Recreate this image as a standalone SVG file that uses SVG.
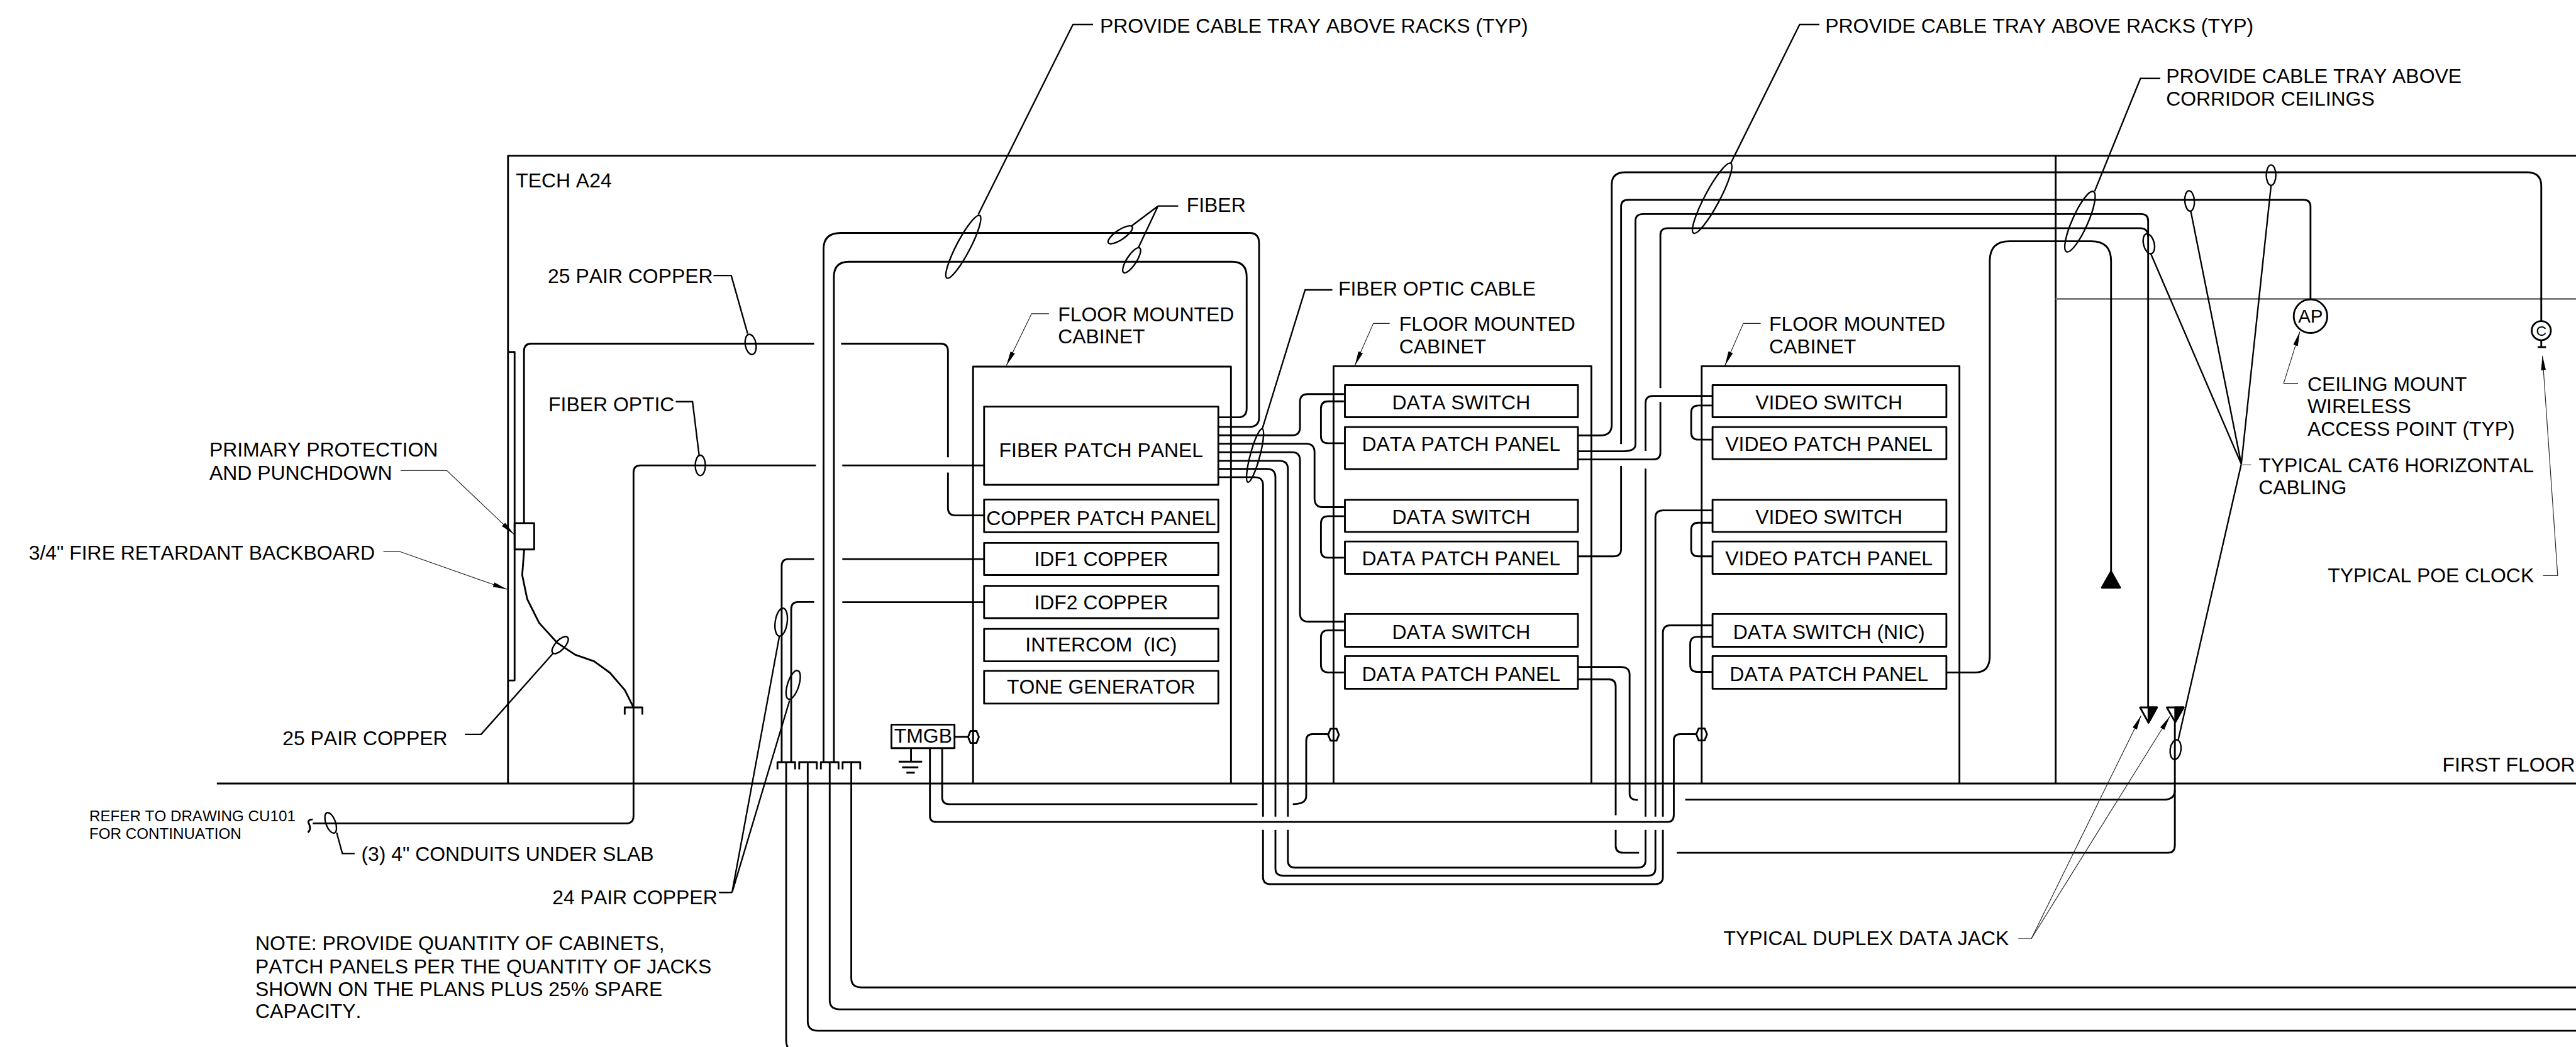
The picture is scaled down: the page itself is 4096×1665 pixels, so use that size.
<svg xmlns="http://www.w3.org/2000/svg" xmlns:xlink="http://www.w3.org/1999/xlink" width="4096" height="1665" viewBox="0 0 4096 1665">
<style>
text{font-family:"Liberation Sans",Arial,sans-serif;font-size:33.5px;fill:#000;white-space:pre;font-kerning:none}
.sm{font-size:25.4px}
.c{text-anchor:middle}
path,line,rect,ellipse,polygon,circle{fill:none;stroke:#000;stroke-linecap:butt;stroke-linejoin:round}
.w path,.w line,.w rect,.w ellipse,.w polygon,.w circle,rect.w,path.w,line.w,polygon.w,ellipse.w,circle.w,#hex,#cap{stroke-width:3}
.l path,.l ellipse,.l line{stroke-width:2.5}
.t path,.t line{stroke-width:1.2;stroke:#222}
.g{stroke:#777!important;stroke-width:1.8}
.f{fill:#000}
</style>
<defs>
<marker id="ah" markerUnits="userSpaceOnUse" markerWidth="26" markerHeight="12" refX="24" refY="6" orient="auto"><path d="M0,2 L24,6 L0,10 Z" style="fill:#000;stroke:none"/></marker>
<polygon id="hex" points="-9,0 -5,-10 5,-10 9,0 5,10 -5,10"/>
<path id="cap" d="M-14.7,12 V0 H14.7 V12"/>
</defs>
<rect width="4096" height="1665" style="fill:#fff;stroke:none"/>
<g transform="scale(0.95256)">

<g id="building" class="w">
<path d="M848,1308 V260 H4300"/>
<path d="M362,1308 H4300"/>
<path d="M3431.4,260 V1308"/>
<path class="g" d="M3431.4,499 H4300"/>
<path d="M848,587.6 H859 V1136 H848"/>
<text x="861" y="313">TECH A24</text>
</g>

<g id="connectors">
<g class="w">
<path d="M874.7,873.3 V586 Q874.7,573.7 887,573.7 H1359"/>
<path d="M1404,573.7 H1570 Q1582.4,573.7 1582.4,586 V763.5"/>
<path d="M1582.4,789 V848 Q1582.4,860.4 1595,860.4 H1642.7"/>
<path d="M875,917.3 L871.7,960 L880,1000 L900,1040 L930,1073 L960,1093 L991.7,1104 L1018,1123 L1043,1152 L1057,1180"/>
<path d="M1362,777 H1069 Q1057.5,777 1057.5,789 V1362 Q1057.5,1374.6 1045,1374.6 H522"/>
<path d="M1406,777 H1642.7"/>
<path d="M522,1368 Q512,1368 516,1376 Q520,1384 514,1390"/>
<path d="M1359,933.4 H1316 Q1304.8,933.4 1304.8,945 V1272.4"/>
<path d="M1359,1005 H1332 Q1320.7,1005 1320.7,1017 V1272.4"/>
<path d="M1406,933.4 H1642.7"/>
<path d="M1406,1005.3 H1642.7"/>
<path d="M1374.7,1272.4 V416 Q1374.7,389 1403,389 H2086 Q2101.7,389 2101.7,406 V697 Q2101.7,712.7 2085,712.7 H2032.7"/>
<path d="M1392,1272.4 V462 Q1392,437 1417,437 H2057 Q2081,437 2081,462 V682 Q2081,696.7 2066,696.7 H2032.7"/>
<path d="M2032.7,726.7 H2157 Q2170,726.7 2170,713 V671 Q2170,658 2183,658 H2243.3"/>
<path d="M2032.7,740.7 H2180 Q2194.3,740.7 2194.3,755 V832 Q2194.3,846.7 2208,846.7 H2243.3"/>
<path d="M2032.7,755 H2157 Q2170,755 2170,769 V1024 Q2170,1037.7 2184,1037.7 H2243.3"/>
<path d="M2032.7,769.3 H2136 Q2149.8,769.3 2149.8,783 V1363.5"/>
<path d="M2032.7,782.7 H2115 Q2129,782.7 2129,797 V1363.5"/>
<path d="M2032.7,796.7 H2095 Q2108.3,796.7 2108.3,810 V1363.5"/>
<path d="M2149.8,1385.5 V1437 Q2149.8,1448.5 2162,1448.5 H2734 Q2746.8,1448.5 2746.8,1437 V1385.5"/>
<path d="M2129,1385.5 V1450 Q2129,1461.8 2141.5,1461.8 H2751 Q2763.3,1461.8 2763.3,1450 V1385.5"/>
<path d="M2108.3,1385.5 V1464 Q2108.3,1476 2120,1476 H2763 Q2775.8,1476 2775.8,1464 V1385.5"/>
<path d="M2746.8,1363.5 V782.4"/>
<path d="M2746.8,752.8 V673 Q2746.8,661 2759,661 H2858.7"/>
<path d="M2763.3,1363.5 V864 Q2763.3,852 2776,852 H2858.7"/>
<path d="M2775.8,1363.5 V1057 Q2775.8,1044 2788,1044 H2858.7"/>
<path d="M2243.3,670 H2217 Q2205,670 2205,682 V728 Q2205,740 2217,740 H2243.3"/>
<path d="M2243.3,861.7 H2217 Q2205,861.7 2205,874 V919 Q2205,931 2217,931 H2243.3"/>
<path d="M2243.3,1052.3 H2217 Q2205,1052.3 2205,1064 V1110 Q2205,1122.6 2217,1122.6 H2243.3"/>
<path d="M2858.7,677 H2835 Q2823,677 2823,689 V722 Q2823,734 2835,734 H2858.7"/>
<path d="M2858.7,872.7 H2835 Q2823,872.7 2823,885 V917 Q2823,928.8 2835,928.8 H2858.7"/>
<path d="M2858.7,1063 H2833 Q2821.4,1063 2821.4,1075 V1110 Q2821.4,1121.7 2833,1121.7 H2858.7"/>
<path d="M2634,727 H2672 Q2690.4,727 2690.4,709 V308 Q2690.4,287.6 2713,287.6 H4218 Q4242,287.6 4242,310 V536.5"/>
<path d="M2634,928.8 H2693 Q2706,928.8 2706,917 V778"/>
<path d="M2706,741.5 V345 Q2706,333.6 2718,333.6 H3845 Q3856.8,333.6 3856.8,345 V499"/>
<path d="M2634,753.3 H2710 Q2730,753.3 2730,742 V369 Q2730,357.4 2743,357.4 H3574 Q3585.8,357.4 3585.8,369 V1181"/>
<path d="M2634,767 H2759 Q2771.6,767 2771.6,756 V671"/>
<path d="M2771.6,648 V392 Q2771.6,381 2784,381 H3572 Q3585.8,381 3585.8,395"/>
<path d="M3249,1122.6 H3298 Q3321.4,1122.6 3321.4,1095 V436 Q3321.4,402.7 3354,402.7 H3491 Q3523.9,402.7 3523.9,436 V954"/>
<path d="M2634,1113.5 H2705 Q2720.2,1113.5 2720.2,1126 V1325 Q2720.2,1335.5 2734,1335.5"/>
<path d="M2813,1335 H3612 Q3630.4,1335 3630.4,1319"/>
<path d="M2634,1134 H2685 Q2697,1134 2697,1146 V1361"/>
<path d="M2697,1385.5 V1412 Q2697,1423.7 2709.5,1423.7 H2736"/>
<path d="M2799,1423.7 H3619 Q3630.4,1423.7 3630.4,1411 V1205.6"/>
<path d="M1593.3,1230 H1616"/>
<path d="M1572.7,1249 V1331 Q1572.7,1342.6 1585,1342.6 H2099"/>
<path d="M2158,1342.5 Q2180.4,1342.5 2180.4,1329 V1237 Q2180.4,1225.7 2191,1225.7 H2217"/>
<path d="M1552.3,1249 V1362 Q1552.3,1372.2 1563,1372.2 H2784 Q2794,1372.2 2794,1360 V1236 Q2794,1225.7 2805,1225.7 H2831.5"/>
<path d="M1421,1272.4 V1633 Q1421,1648.4 1438,1648.4 H4300"/>
<path d="M1385,1272.4 V1670 Q1385,1685 1402,1685 H4300"/>
<path d="M1348.3,1272.4 V1705 Q1348.3,1720.8 1365,1720.8 H4300"/>
<path d="M1312.3,1272.4 V1738 Q1312.3,1748 1320,1756"/>
</g>
<g class="l">
<path d="M1824.5,41 H1791 L1633,358"/>
<path d="M3037,41 H3004 L2889,272.7"/>
<path d="M3606,131 H3573 L3496.4,319.5"/>
<path d="M1966.7,344 H1933 L1888,378 M1933,344 L1900,414"/>
<path d="M2224,484 H2178.5 L2107,716"/>
<path d="M1191,460 H1220.6 L1248,557"/>
<path d="M1128,670.5 H1156 L1167,760"/>
<path d="M776,1226 H803 L923,1091"/>
<path d="M562,1390 L571.5,1425 H592"/>
<path d="M1222,1490 H1200 M1222,1490 L1301,1062 M1222,1490 L1318,1169.5"/>
<path d="M3741.3,774.7 L3791,309.7 M3741.3,774.7 L3657,352.8 M3741.3,774.7 L3590,423 M3741.3,774.7 L3636,1235"/>
<ellipse cx="1608" cy="412" rx="11.5" ry="59" transform="rotate(27.6 1608 412)"/>
<ellipse cx="2858" cy="331" rx="12.5" ry="66" transform="rotate(28 2858 331)"/>
<ellipse cx="3472" cy="370" rx="13" ry="55" transform="rotate(24 3472 370)"/>
<ellipse cx="2095" cy="760.5" rx="8" ry="46" transform="rotate(15 2095 760.5)"/>
<ellipse cx="1870" cy="392" rx="8" ry="24" transform="rotate(56 1870 392)"/>
<ellipse cx="1889" cy="434.5" rx="8" ry="24.5" transform="rotate(33 1889 434.5)"/>
<ellipse cx="1253" cy="575" rx="9" ry="17" transform="rotate(-10 1253 575)"/>
<ellipse cx="1169" cy="777" rx="8.5" ry="17"/>
<ellipse cx="935" cy="1077" rx="8" ry="18" transform="rotate(43 935 1077)"/>
<ellipse cx="552" cy="1373.7" rx="8" ry="18" transform="rotate(-20 552 1373.7)"/>
<ellipse cx="1304" cy="1038.7" rx="10" ry="23.5" transform="rotate(8 1304 1038.7)"/>
<ellipse cx="1324" cy="1143.4" rx="9.5" ry="25" transform="rotate(18 1324 1143.4)"/>
<ellipse cx="3791" cy="292.5" rx="8" ry="17"/>
<ellipse cx="3655" cy="335.5" rx="8" ry="17" transform="rotate(-4 3655 335.5)"/>
<ellipse cx="3587" cy="407" rx="9" ry="17" transform="rotate(-14 3587 407)"/>
<ellipse cx="3631.6" cy="1251.5" rx="9" ry="16.5" transform="rotate(8 3631.6 1251.5)"/>
</g>
<g class="t">
<path marker-end="url(#ah)" d="M668.6,785.7 H746 L858,892"/>
<path marker-end="url(#ah)" d="M640,921 H667.7 L846.7,984"/>
<path marker-end="url(#ah)" d="M1751,523.7 H1722 L1680,610"/>
<path marker-end="url(#ah)" d="M2319.7,540 H2292.4 L2261.7,610"/>
<path marker-end="url(#ah)" d="M2939,540 H2910 L2879.4,610"/>
<path marker-end="url(#ah)" d="M3836,640 H3812 L3839,553.7"/>
<path marker-end="url(#ah)" d="M4245,961 H4269.4 L4244,594"/>
<path class="g" d="M3369,1566.8 H3391"/>
<path marker-end="url(#ah)" d="M3391,1566.8 L3574,1194.8"/>
<path marker-end="url(#ah)" d="M3391,1566.8 L3622,1196"/>
<path class="g" d="M3741,775.8 H3758"/>
</g>
</g>

<g id="cab1" class="w"><path d="M1624.3,1308 V612 H2054.8 V1308"/></g>
<g id="cab2" class="w"><path d="M2226,1308 V611.4 H2656.4 V1308"/></g>
<g id="cab3" class="w"><path d="M2840.5,1308 V611.4 H3270.8 V1308"/></g>

<g id="p-fiber" class="w"><rect x="1642.7" y="678.8" width="391" height="130.6"/><text class="c" x="1838" y="763.5">FIBER PATCH PANEL</text></g>
<g id="p-copper" class="w"><rect x="1642.7" y="834" width="391" height="54.5"/><text class="c" x="1838" y="876.7">COPPER PATCH PANEL</text></g>
<g id="p-idf1" class="w"><rect x="1642.7" y="906.3" width="391" height="53.7"/><text class="c" x="1838" y="945">IDF1 COPPER</text></g>
<g id="p-idf2" class="w"><rect x="1642.7" y="978" width="391" height="54"/><text class="c" x="1838" y="1017">IDF2 COPPER</text></g>
<g id="p-ic" class="w"><rect x="1642.7" y="1050" width="391" height="54"/><text class="c" x="1838" y="1088">INTERCOM  (IC)</text></g>
<g id="p-tone" class="w"><rect x="1642.7" y="1120" width="391" height="54.6"/><text class="c" x="1838" y="1158.4">TONE GENERATOR</text></g>

<g id="p-ds1" class="w"><rect x="2245" y="643" width="389" height="53.6"/><text class="c" x="2439" y="683">DATA SWITCH</text></g>
<g id="p-dpp1" class="w"><rect x="2245" y="713" width="389" height="70"/><text class="c" x="2439" y="753">DATA PATCH PANEL</text></g>
<g id="p-ds2" class="w"><rect x="2245" y="834.4" width="389" height="53.6"/><text class="c" x="2439" y="874">DATA SWITCH</text></g>
<g id="p-dpp2" class="w"><rect x="2245" y="904" width="389" height="54"/><text class="c" x="2439" y="944">DATA PATCH PANEL</text></g>
<g id="p-ds3" class="w"><rect x="2245" y="1025" width="389" height="54.7"/><text class="c" x="2439" y="1067">DATA SWITCH</text></g>
<g id="p-dpp3" class="w"><rect x="2245" y="1095.4" width="389" height="54.6"/><text class="c" x="2439" y="1137">DATA PATCH PANEL</text></g>

<g id="p-vs1" class="w"><rect x="2858.7" y="643" width="390.3" height="53.6"/><text class="c" x="3053" y="683">VIDEO SWITCH</text></g>
<g id="p-vpp1" class="w"><rect x="2858.7" y="713" width="390.3" height="53.5"/><text class="c" x="3053" y="753">VIDEO PATCH PANEL</text></g>
<g id="p-vs2" class="w"><rect x="2858.7" y="834.4" width="390.3" height="53.6"/><text class="c" x="3053" y="874">VIDEO SWITCH</text></g>
<g id="p-vpp2" class="w"><rect x="2858.7" y="904" width="390.3" height="54"/><text class="c" x="3053" y="944">VIDEO PATCH PANEL</text></g>
<g id="p-nic" class="w"><rect x="2858.7" y="1025" width="390.3" height="54.7"/><text class="c" x="3053" y="1067">DATA SWITCH (NIC)</text></g>
<g id="p-dpp4" class="w"><rect x="2858.7" y="1095.4" width="390.3" height="54.6"/><text class="c" x="3053" y="1137">DATA PATCH PANEL</text></g>

<g id="tmgb" class="w"><rect x="1488" y="1209.8" width="105.3" height="39.2"/><text class="c" x="1541" y="1240">TMGB</text>
<path d="M1520.7,1249 V1271.6 M1500,1271.6 H1539.3 M1506,1281 H1533 M1513,1290 H1527"/></g>
<g id="bond-hexes">
<use xlink:href="#hex" href="#hex" x="1625" y="1230.4"/>
<use xlink:href="#hex" href="#hex" x="2226" y="1226.6"/>
<use xlink:href="#hex" href="#hex" x="2840.5" y="1226"/>
</g>
<g id="punchdown" class="w"><rect x="859" y="873.3" width="32.7" height="44"/></g>
<g id="sleeves">
<use xlink:href="#cap" href="#cap" x="1057.5" y="1181"/>
<use xlink:href="#cap" href="#cap" x="1312.5" y="1272.4"/>
<use xlink:href="#cap" href="#cap" x="1348.8" y="1272.4"/>
<use xlink:href="#cap" href="#cap" x="1385" y="1272.4"/>
<use xlink:href="#cap" href="#cap" x="1421.2" y="1272.4"/>
</g>

<g id="ap" class="w"><circle cx="3856.8" cy="527.9" r="28"/><text class="c" x="3856.8" y="539" style="font-size:31px">AP</text></g>
<g id="clock" class="w"><circle cx="4242" cy="552" r="16"/><text class="c" x="4242" y="561" style="font-size:24px">C</text><path d="M4242,568 V579.5 M4236,579.5 H4250"/></g>
<g id="jack-up" class="w"><polygon class="f" points="3523.9,954 3508.5,981 3539,981"/></g>
<g id="jack-1" class="w"><polygon points="3572.3,1181 3600.4,1181 3586.4,1206.6"/><polygon class="f" points="3586.4,1181 3600.4,1181 3586.4,1206.6"/></g>
<g id="jack-2" class="w"><polygon points="3617,1181 3645,1181 3631,1205.6"/><polygon class="f" points="3631,1181 3645,1181 3631,1205.6"/></g>

<g id="labels">
<text x="1836" y="54.3">PROVIDE CABLE TRAY ABOVE RACKS (TYP)</text>
<text x="3046.8" y="54.3">PROVIDE CABLE TRAY ABOVE RACKS (TYP)</text>
<text x="3615.7" y="139">PROVIDE CABLE TRAY ABOVE</text>
<text x="3615.7" y="176.5">CORRIDOR CEILINGS</text>
<text x="1980.7" y="354.3">FIBER</text>
<text x="2234" y="493.6">FIBER OPTIC CABLE</text>
<text x="1766" y="536.4">FLOOR MOUNTED</text><text x="1766" y="573">CABINET</text>
<text x="2335.5" y="552">FLOOR MOUNTED</text><text x="2335.5" y="590">CABINET</text>
<text x="2953" y="552">FLOOR MOUNTED</text><text x="2953" y="590">CABINET</text>
<text x="914.5" y="472.5">25 PAIR COPPER</text>
<text x="915.5" y="687">FIBER OPTIC</text>
<text x="349.5" y="762">PRIMARY PROTECTION</text><text x="349.5" y="800.5">AND PUNCHDOWN</text>
<text x="48" y="934">3/4" FIRE RETARDANT BACKBOARD</text>
<text x="471.6" y="1243.7">25 PAIR COPPER</text>
<text class="sm" x="149" y="1371">REFER TO DRAWING CU101</text><text class="sm" x="149" y="1400">FOR CONTINUATION</text>
<text x="603" y="1437.5">(3) 4" CONDUITS UNDER SLAB</text>
<text x="922" y="1510">24 PAIR COPPER</text>
<text x="426.3" y="1586.6">NOTE: PROVIDE QUANTITY OF CABINETS,</text>
<text x="426.3" y="1625">PATCH PANELS PER THE QUANTITY OF JACKS</text>
<text x="426.3" y="1662.5">SHOWN ON THE PLANS PLUS 25% SPARE</text>
<text x="426.3" y="1700">CAPACITY.</text>
<text x="2877" y="1578">TYPICAL DUPLEX DATA JACK</text>
<text x="3851.7" y="653">CEILING MOUNT</text><text x="3851.7" y="690">WIRELESS</text><text x="3851.7" y="727.6">ACCESS POINT (TYP)</text>
<text x="3770" y="788">TYPICAL CAT6 HORIZONTAL</text><text x="3770" y="825">CABLING</text>
<text x="3885.5" y="972">TYPICAL POE CLOCK</text>
<text x="4077" y="1288">FIRST FLOOR</text>
</g>
</g>
</svg>
